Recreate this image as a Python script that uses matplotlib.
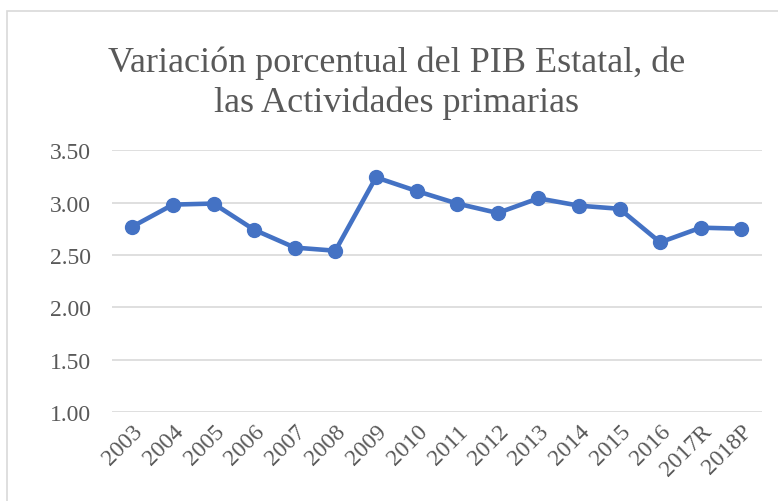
import matplotlib
matplotlib.use("Agg")
from matplotlib import pyplot as plt
from matplotlib.patches import Rectangle

years = ['2003', '2004', '2005', '2006', '2007', '2008', '2009', '2010',
         '2011', '2012', '2013', '2014', '2015', '2016', '2017R', '2018P']
values = [2.77, 2.98, 2.99, 2.74, 2.57, 2.54, 3.24, 3.11,
          2.99, 2.90, 3.04, 2.97, 2.94, 2.62, 2.76, 2.75]
yticks = [1.00, 1.50, 2.00, 2.50, 3.00, 3.50]

plt.rcParams['font.family'] = ['Liberation Serif', 'DejaVu Serif']

fig = plt.figure(figsize=(7.78, 5.02), dpi=100)
ax = fig.add_axes([0.144, 0.177, 0.835, 0.522])

# chart border (Excel style)
fig.patches.append(Rectangle((7 / 778, -0.1), 1.2, 1.1 - 12 / 502,
                             transform=fig.transFigure, fill=False,
                             edgecolor='#d9d9d9', linewidth=1.2))

x = list(range(len(years)))
ax.plot(x, values, color='#4472C4', linewidth=3.3, marker='o',
        markersize=10, solid_capstyle='round', zorder=3)

ax.set_xlim(-0.5, len(years) - 0.5)
ax.set_ylim(1.0, 3.5)
ax.set_yticks(yticks)
ax.set_yticklabels(['%.2f' % v for v in yticks])
ax.set_xticks(x)
ax.set_xticklabels(years, rotation=45, ha='right', rotation_mode='anchor')
ax.tick_params(axis='both', length=0, labelsize=17, labelcolor='#595959')
ax.tick_params(axis='x', pad=6)
ax.tick_params(axis='y', pad=15)
ax.yaxis.grid(True, color='#d9d9d9', linewidth=1.2)
ax.set_axisbelow(True)
for s in ax.spines.values():
    s.set_visible(False)

fig.text(0.51, 0.835, 'Variación porcentual del PIB Estatal, de\nlas Actividades primarias',
         ha='center', va='center', fontsize=26, color='#595959', linespacing=1.25)

fig.savefig('out.png', dpi=100)
